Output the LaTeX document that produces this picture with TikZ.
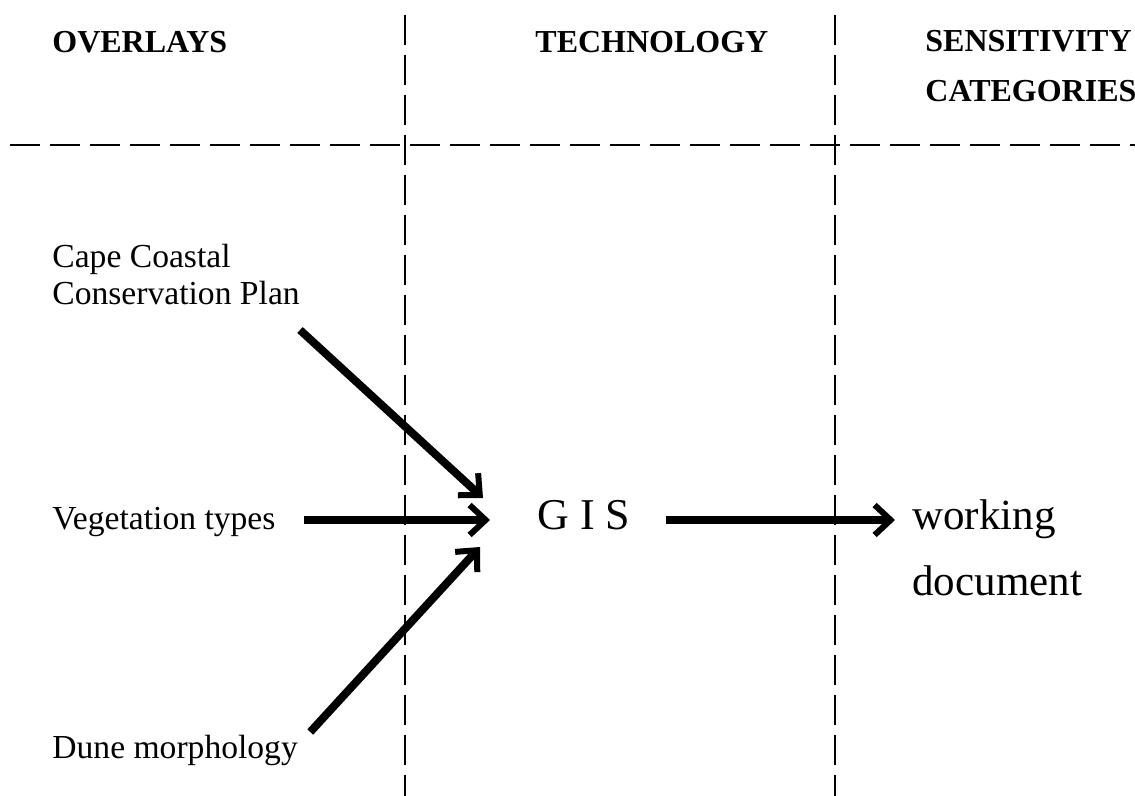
\documentclass[tikz,border=0pt]{standalone}
\usepackage{fontspec}
\setmainfont{Liberation Serif}
\usepackage{tikz}
\usetikzlibrary{arrows.meta, calc}

\begin{document}
\begin{tikzpicture}[x=0.5pt, y=-0.5pt,
    head/.style = {anchor=base west, inner sep=0pt, align=left,
        font=\fontsize{16}{25}\selectfont\bfseries},
    label/.style = {anchor=base west, inner sep=0pt, align=left,
        font=\fontsize{16.8}{18.5}\selectfont},
    divider/.style = {line width=1.3pt, dash pattern=on 15pt off 5pt},
    flow/.style = {line width=4pt, -{Straight Barb[length=8pt, width=15pt, line width=3pt]}}]
    \useasboundingbox (0,0) rectangle (1135,796);

    % column headings
    \node[head] (overlays) at (52,53) {OVERLAYS};
    \node[head] (technology) at (535,53) {TECHNOLOGY};
    \node[head] (sensitivity) at (925,102) {SENSITIVITY\\CATEGORIES};

    % grid
    \draw[divider] (10,145) -- (1135,145);
    \draw[divider] (405,15) -- (405,796);
    \draw[divider] (835,15) -- (835,796);

    \node[label] (cape) at (52,305) {Cape Coastal\\Conservation Plan};
    \node[label] (veg) at (52,530) {Vegetation types};
    \node[label] (dune) at (52,758) {Dune morphology};
    \node[anchor=base west, inner sep=0pt, font=\fontsize{22}{26}\selectfont] (gis) at (537,530) {G I S};
    \node[anchor=base west, inner sep=0pt, align=left, font=\fontsize{21.5}{32.5}\selectfont] (working) at (912,595) {working\\document};

    \draw[flow] ([shift={(248,25)}]cape.base west) -- ([shift={(-54,-32)}]gis.base west);
    \draw[flow] ([shift={(28,-10)}]veg.base east) -- ([shift={(-47,-10)}]gis.base west);
    \draw[flow] ([shift={(12,-26)}]dune.base east) -- ([shift={(-57,17)}]gis.base west);
    \draw[flow] ([shift={(35,-10)}]gis.base east) -- ([shift={(-17,-75)}]working.base west);
\end{tikzpicture}
\end{document}
